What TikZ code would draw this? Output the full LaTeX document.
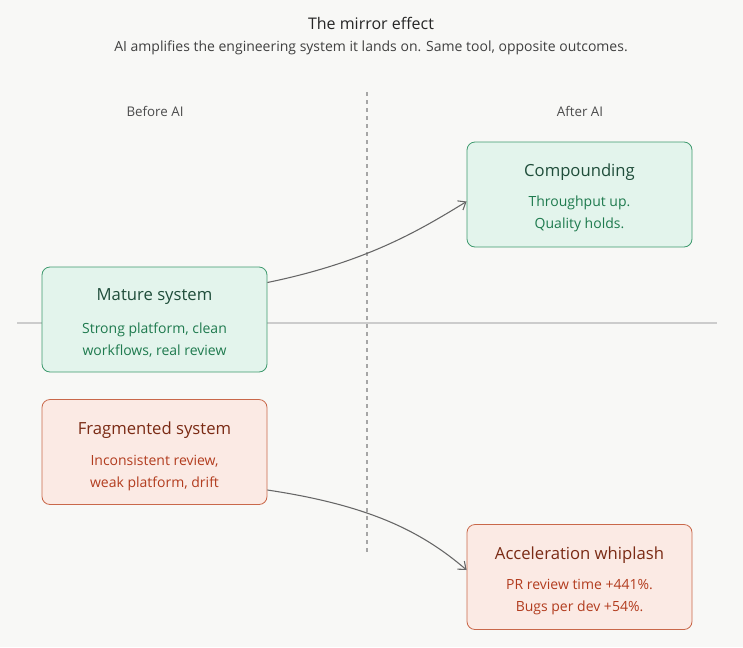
\documentclass[tikz,border=0pt]{standalone}
\usepackage{fontspec}
\setmainfont{Open Sans}
\usepackage{xcolor}
\usepackage{tikz}
\usetikzlibrary{calc}
\usetikzlibrary{arrows.meta}
\definecolor{bgcol}{HTML}{F8F8F6}
\definecolor{gfill}{HTML}{E3F4EC}
\definecolor{gline}{HTML}{3E9A6E}
\definecolor{gtitle}{HTML}{1F4D3A}
\definecolor{gtext}{HTML}{1E7A4E}
\definecolor{rfill}{HTML}{FBEAE4}
\definecolor{rline}{HTML}{C9684A}
\definecolor{rtitle}{HTML}{7A2A14}
\definecolor{rtext}{HTML}{B23C1E}
\tikzset{
  box/.style={draw, rounded corners=6pt, minimum width=168.75pt, minimum height=78.75pt, line width=0.6pt},
  good/.style={box, fill=gfill, draw=gline},
  bad/.style={box, fill=rfill, draw=rline},
  flow/.style={draw=black!60, line width=0.8pt, -{Straight Barb[length=5pt,width=8pt]}}
}
\begin{document}
\begin{tikzpicture}[x=0.75pt, y=-0.75pt]
            \fill[bgcol] (0, 0) rectangle (743, 647);
            \useasboundingbox (0, 0) rectangle (743, 647);

            \node (title) at (371, 23) {\fontsize{12}{14}\selectfont\color{black!85}The mirror effect};
            \node (sub) at (371, 48) {\fontsize{10.5}{13}\selectfont\color{black!75}AI amplifies the engineering system it lands on. Same tool, opposite outcomes.};
            \node (before) at (155, 111) {\fontsize{10}{12}\selectfont\color{black!70}Before AI};
            \node (after) at (580, 111) {\fontsize{10}{12}\selectfont\color{black!70}After AI};

            \coordinate (vtop) at (367, 92);
            \coordinate (vbot) at (367, 553);
            \coordinate (hl) at (17, 323);
            \coordinate (hr) at (717, 323);
            \draw [black!35, dashed, line width=0.8pt] (vtop) -- (vbot);
            \draw [black!20, line width=0.8pt] (hl) -- (hr);

            \node [good] (mature) at (154.5, 319.5) {};
            \node [good] (comp) at (579.5, 194.5) {};
            \node [bad] (frag) at (154.5, 452) {};
            \node [bad] (whip) at (579.5, 577) {};

            \node [text=gtitle, font=\fontsize{12.5}{15}\selectfont] at (154.5, 297) {Mature system};
            \node [text=gtext, align=center, font=\fontsize{10.5}{17}\selectfont] at (154.5, 340) {Strong platform, clean\\workflows, real review};
            \node [text=gtitle, font=\fontsize{12.5}{15}\selectfont] at (579.5, 172) {Compounding};
            \node [text=gtext, align=center, font=\fontsize{10.5}{17}\selectfont] at (579.5, 214) {Throughput up.\\Quality holds.};
            \node [text=rtitle, font=\fontsize{12.5}{15}\selectfont] at (154.5, 430) {Fragmented system};
            \node [text=rtext, align=center, font=\fontsize{10.5}{17}\selectfont] at (154.5, 473) {Inconsistent review,\\weak platform, drift};
            \node [text=rtitle, font=\fontsize{12.5}{15}\selectfont] at (579.5, 555) {Acceleration whiplash};
            \node [text=rtext, align=center, font=\fontsize{10.5}{17}\selectfont] at (579.5, 597) {PR review time +441\%.\\Bugs per dev +54\%.};

            \draw [flow] ($(mature.east)+(0,-37)$) .. controls (367, 262) and (420, 230) .. ($(comp.west)+(0,7)$);
            \draw [flow] ($(frag.east)+(0,38)$) .. controls (367, 505) and (420, 530) .. ($(whip.west)+(0,-7)$);
\end{tikzpicture}
\end{document}
